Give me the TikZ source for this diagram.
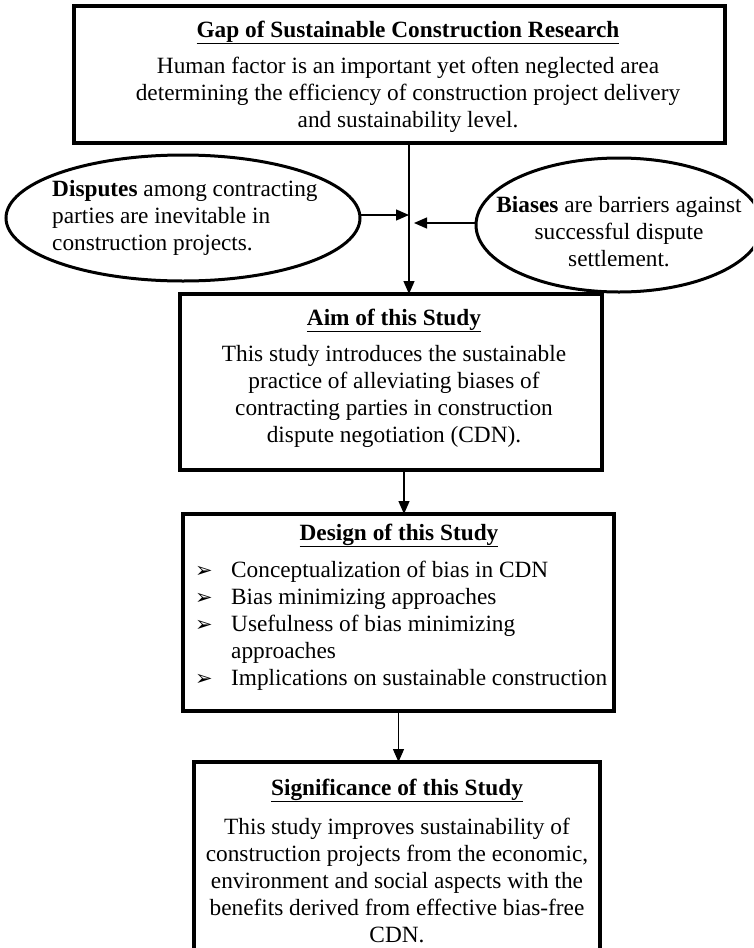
\documentclass[tikz,border=0pt]{standalone}
\usepackage{fontspec}
\setmainfont{Liberation Serif}
\newfontfamily\djv{DejaVu Sans}
\usetikzlibrary{arrows.meta,shapes.geometric}
\begin{document}
\begin{tikzpicture}[x=1pt,y=-1pt,
  box/.style={draw, line width=3.5pt, inner sep=0pt, outer sep=0pt},
  oval/.style={draw, ellipse, line width=3pt, inner sep=0pt, outer sep=0pt},
  conn/.style={line width=1.3pt, -{Triangle[length=13pt,width=11pt]}},
  txt/.style={font=\fontsize{23.3}{27}\selectfont, align=center, inner sep=0pt},
  ttl/.style={txt, anchor=base}
]
\useasboundingbox (0,0) rectangle (753,948);
\clip (0,0) rectangle (753,948);
% boxes
\node[box, minimum width=651pt, minimum height=137pt] (gap) at (399.5,74.5) {};
\node[box, minimum width=422pt, minimum height=176pt] (aim) at (391,382) {};
\node[box, minimum width=431pt, minimum height=197pt] (design) at (398.5,612.5) {};
\node[box, minimum width=406pt, minimum height=220pt] (sig) at (397,872) {};
% ellipses
\node[oval, minimum width=354pt, minimum height=126pt] (disp) at (183,218) {};
\node[oval, minimum width=286pt, minimum height=134pt] (bias) at (619,225) {};
% texts
\node[ttl] (gapT) at (408,37) {\underline{\textbf{Gap of Sustainable Construction Research}}};
\node[txt] (gapB) at (408,95) {Human factor is an important yet often neglected area\\determining the efficiency of construction project delivery\\and sustainability level.};
\node[txt, anchor=west, align=left] (dispT) at (52,218) {\textbf{Disputes} among contracting\\parties are inevitable in\\construction projects.};
\node[txt] (biasT) at (619,232) {\textbf{Biases} are barriers against\\successful dispute\\settlement.};
\node[ttl] (aimT) at (394,325) {\underline{\textbf{Aim of this Study}}};
\node[txt] (aimB) at (394,396) {This study introduces the sustainable\\practice of alleviating biases of\\contracting parties in construction\\dispute negotiation (CDN).};
\node[ttl] (desT) at (399,540) {\underline{\textbf{Design of this Study}}};
\node[txt, anchor=west, align=left] (desB) at (195,626) {%
\begin{tabular}{@{}l@{}l@{}}
\makebox[36pt][l]{\fontsize{21}{27}\djv ➢} & Conceptualization of bias in CDN\\
\makebox[36pt][l]{\fontsize{21}{27}\djv ➢} & Bias minimizing approaches\\
\makebox[36pt][l]{\fontsize{21}{27}\djv ➢} & Usefulness of bias minimizing\\
 & approaches\\
\makebox[36pt][l]{\fontsize{21}{27}\djv ➢} & Implications on sustainable construction
\end{tabular}};
\node[ttl] (sigT) at (397,795) {\underline{\textbf{Significance of this Study}}};
\node[txt] (sigB) at (397,880) {This study improves sustainability of\\construction projects from the economic,\\environment and social aspects with the\\benefits derived from effective bias-free\\CDN.};
% connectors
\coordinate (vx) at (409,0);
\draw[conn] (gap.south -| vx) -- (aim.north -| vx);
\coordinate (j1) at (409,215);
\coordinate (j2) at (414,223);
\draw[conn] (disp.east |- j1) -- (j1);
\draw[conn] (bias.west |- j2) -- (j2);
\coordinate (ax) at (404,0);
\draw[conn] (aim.south -| ax) -- (design.north -| ax);
\draw[conn] (design.south) -- (sig.north -| design.south);
\end{tikzpicture}
\end{document}
